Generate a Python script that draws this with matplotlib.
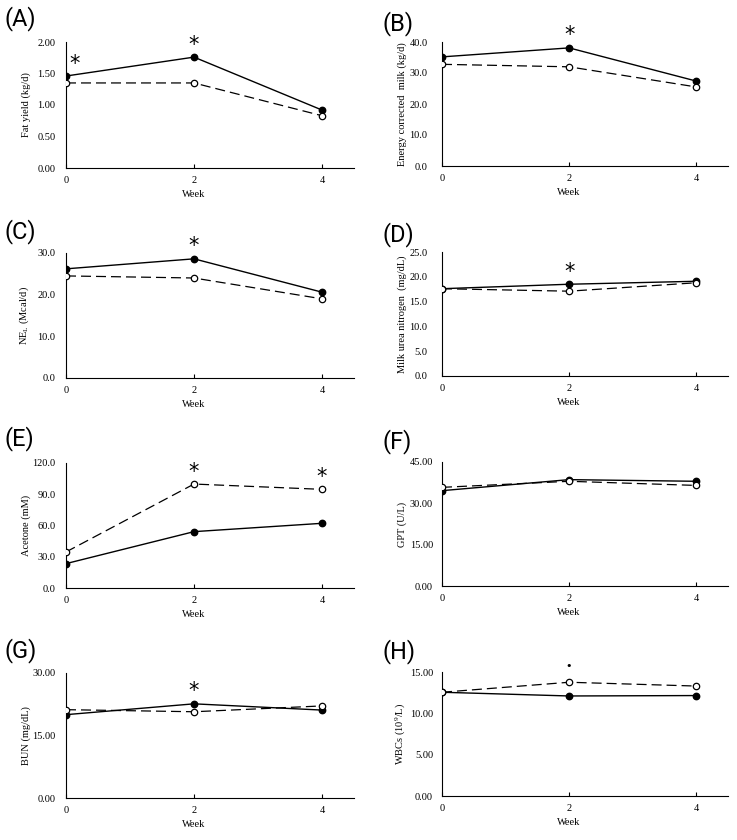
import matplotlib
matplotlib.use("Agg")
import matplotlib.pyplot as plt
from matplotlib.ticker import MultipleLocator, FormatStrFormatter

plt.rcParams['font.family'] = ['Liberation Serif', 'DejaVu Serif']
plt.rcParams['mathtext.fontset'] = 'custom'
plt.rcParams['mathtext.rm'] = 'Liberation Serif'
plt.rcParams['mathtext.it'] = 'Liberation Serif:italic'

weeks = [0, 2, 4]

# filled marker / solid line and open marker / dashed line
fat_solid = [1.46, 1.76, 0.92]
fat_open = [1.35, 1.35, 0.83]
ecm_solid = [35.2, 38.1, 27.4]
ecm_open = [32.8, 32.0, 25.5]
nel_solid = [26.2, 28.6, 20.6]
nel_open = [24.5, 24.0, 19.0]
mun_solid = [17.6, 18.5, 19.1]
mun_open = [17.6, 17.1, 18.8]
acetone_solid = [23.4, 54.1, 62.1]
acetone_open = [34.6, 99.8, 94.7]
gpt_solid = [34.6, 38.6, 38.0]
gpt_open = [35.8, 38.0, 36.5]
bun_solid = [20.0, 22.6, 21.1]
bun_open = [21.2, 20.7, 22.1]
wbc_solid = [12.55, 12.1, 12.15]
wbc_open = [12.55, 13.76, 13.3]

letters = ['(A)', '(B)', '(C)', '(D)', '(E)', '(F)', '(G)', '(H)']
ylabels = ['Fat yield (kg/d)', 'Energy corrected  milk (kg/d)',
           r'NE$_\mathrm{L}$ (Mcal/d)', 'Milk urea nitrogen  (mg/dL)',
           'Acetone (mM)', 'GPT (U/L)', 'BUN (mg/dL)', r'WBCs (10$^9$/L)']
ymax = [2.0, 40.0, 30.0, 25.0, 120.0, 45.0, 30.0, 15.0]
ystep = [0.5, 10.0, 10.0, 5.0, 30.0, 15.0, 15.0, 5.0]
yfmt = ['%.2f', '%.1f', '%.1f', '%.1f', '%.1f', '%.2f', '%.2f', '%.2f']
solid = [fat_solid, ecm_solid, nel_solid, mun_solid,
         acetone_solid, gpt_solid, bun_solid, wbc_solid]
opened = [fat_open, ecm_open, nel_open, mun_open,
          acetone_open, gpt_open, bun_open, wbc_open]
# weeks marked significant (*) and panel H's dot marker
star_weeks = [[0, 2], [2], [2], [2], [2, 4], [], [2], []]
dot_weeks = [[], [], [], [], [], [], [], [2]]

W, H = 737, 840
fig = plt.figure(figsize=(W / 100, H / 100), dpi=100)

# pixel boxes (left, top, right, bottom) for each panel
lefts = [66, 442]
rights = [354, 728]
tops = [[42, 253, 463, 673], [42, 252, 462, 672]]
bottoms = [[168, 378, 588, 798], [166, 376, 586, 796]]
label_y = [[19, 232, 439, 651], [24, 235, 442, 652]]
label_x = [5, 382]
ypad = [7.5, 10.5, 7.5, 10.5, 7.5, 6.5, 7.5, 6.5]

for i in range(8):
    row, col = i // 2, i % 2
    l, r = lefts[col], rights[col]
    t, b = tops[col][row], bottoms[col][row]
    ax = fig.add_axes([l / W, 1 - b / H, (r - l) / W, (b - t) / H])

    ax.plot(weeks, solid[i], color='black', lw=1.0, marker='o', ms=4.6,
            mfc='black', mec='black', zorder=3)
    ax.plot(weeks, opened[i], color='black', lw=0.9, ls=(0, (8, 4)),
            marker='o', ms=4.6, mfc='white', mec='black', mew=0.9, zorder=4)

    ax.set_xlim(0, 4.5)
    ax.set_ylim(0, ymax[i])
    ax.set_xticks(weeks)
    ax.yaxis.set_major_locator(MultipleLocator(ystep[i]))
    ax.yaxis.set_major_formatter(FormatStrFormatter(yfmt[i]))
    for s in ['top', 'right']:
        ax.spines[s].set_visible(False)
    for s in ['left', 'bottom']:
        ax.spines[s].set_linewidth(0.8)
    ax.tick_params(axis='x', direction='in', length=3, width=0.8,
                   labelsize=7.5, pad=6)
    ax.tick_params(axis='y', length=0, labelsize=7.5, pad=ypad[i])

    ax.set_ylabel(ylabels[i], fontsize=7.5)
    ax.yaxis.set_label_coords(-35 / (r - l), 0.5)
    ax.set_xlabel('Week', fontsize=7.5)
    ax.xaxis.set_label_coords(2 / 4.5, -22 / (b - t))

    for wk in star_weeks[i]:
        k = weeks.index(wk)
        top_val = max(solid[i][k], opened[i][k])
        dx = 6 if wk == 0 else 0
        ax.annotate('*', (wk, top_val), xytext=(dx, 9), textcoords='offset points',
                    ha='center', va='center', fontsize=15,
                    family=['DejaVu Sans'], annotation_clip=False)
    for wk in dot_weeks[i]:
        k = weeks.index(wk)
        top_val = max(solid[i][k], opened[i][k])
        ax.annotate('•', (wk, top_val), xytext=(0, 12), textcoords='offset points',
                    ha='center', va='center', fontsize=8,
                    family=['DejaVu Sans'], annotation_clip=False)

    fig.text(label_x[col] / W, 1 - label_y[col][row] / H, letters[i],
             ha='left', va='center', fontsize=17, family=['Roboto', 'DejaVu Sans'])

fig.savefig('out.png', dpi=100)
